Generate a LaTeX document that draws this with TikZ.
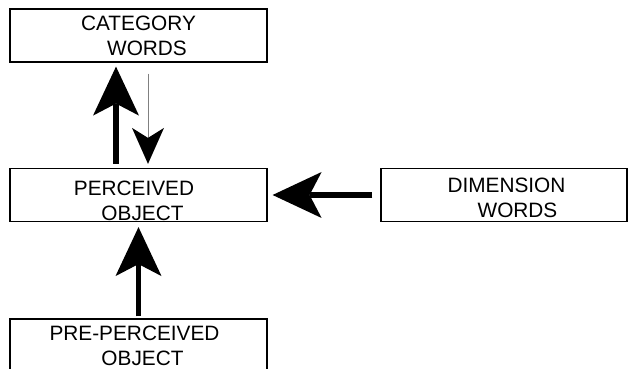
\documentclass[tikz,border=0pt]{standalone}
\usepackage{fontspec}
\setmainfont{Liberation Sans}
\usetikzlibrary{arrows.meta}

\begin{document}
\begin{tikzpicture}[x=0.5pt, y=-0.5pt,
  wordbox/.style={draw, line width=0.6pt, minimum width=128.5pt, minimum height=26.5pt,
    inner sep=0pt, align=center, font=\fontsize{10.4}{12.5}\selectfont},
  bigarrow/.style={line width=2.75pt,
    -{Stealth[length=24.5pt, width=23pt, inset=6pt, line width=0pt]}},
  thinarrow/.style={line width=0.5pt, gray,
    -{Stealth[length=18pt, width=16pt, inset=5pt, line width=0pt, color=black]}}]

% Frame of the picture
\clip (0,0) rectangle (628,369);

% Boxes
\node[wordbox] (cat) at (138.5,35.5) {CATEGORY\\\hspace*{8.5pt}WORDS};
\node[wordbox] (perc) at (138.5,195) {\rule{0pt}{13pt}PERCEIVED\hspace*{4.5pt}\\\hspace*{4pt}OBJECT};
\node[wordbox, minimum width=123pt] (dim) at (504,195) {\rule{0pt}{10pt}\hspace*{2.5pt}DIMENSION\\\hspace*{13.5pt}WORDS};
\node[wordbox] (pre) at (138.5,345.5) {PRE-PERCEIVED\hspace*{4pt}\\\hspace*{4pt}OBJECT};

% Thick arrow up to the category words
\draw[bigarrow] ([xshift=-11.25pt,yshift=2pt]perc.north) -- ([xshift=-11.25pt,yshift=-2pt]cat.south);

% Thin arrow back down
\draw[thinarrow] ([xshift=4.75pt,yshift=-5.5pt]cat.south) -- ([xshift=4.75pt,yshift=2pt]perc.north);

% Arrow from the dimension words
\draw[bigarrow] ([xshift=-4pt]dim.west) -- ([xshift=2.5pt]perc.east);

% Arrow up from the pre-perceived object
\draw[bigarrow] ([yshift=1pt]pre.north) -- ([yshift=-2.5pt]perc.south);

\end{tikzpicture}
\end{document}
